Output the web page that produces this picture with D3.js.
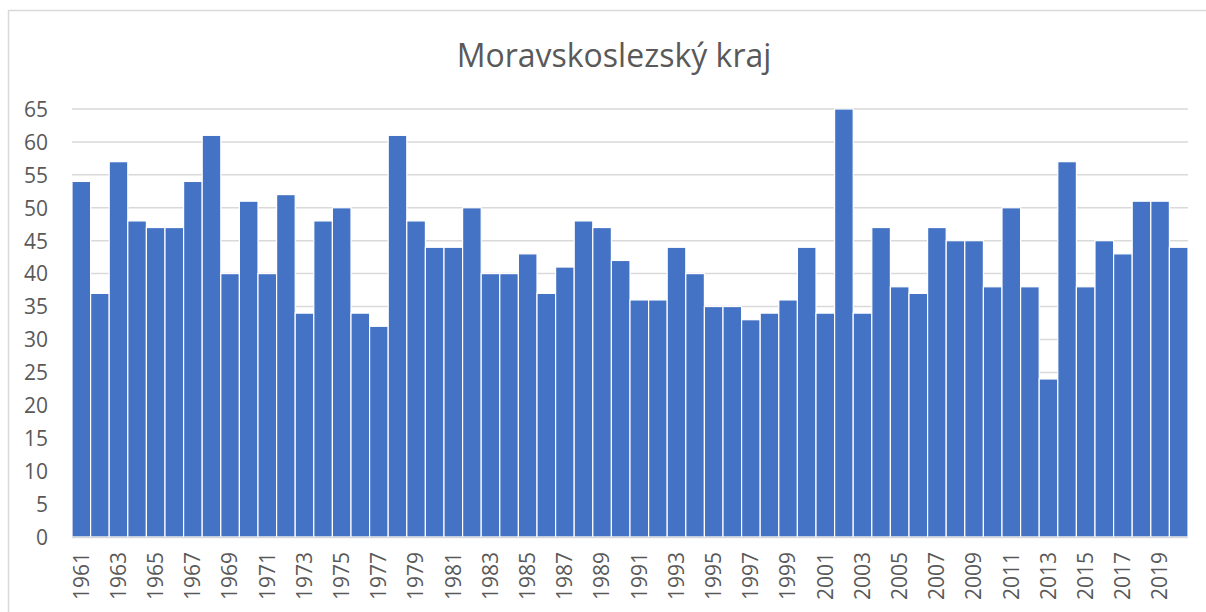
<!DOCTYPE html>
<html><head><meta charset="utf-8">
<script src="https://cdn.jsdelivr.net/npm/d3@7"></script>
<style>body{margin:0;background:#fff;} svg{display:block;}</style>
</head><body>
<svg id="chart" width="1206" height="612"></svg>
<script>
const title = "Moravskoslezský kraj";
const years = d3.range(1961, 2021).map(String);
const values = [54,37,57,48,47,47,54,61,40,51,40,52,34,48,50,34,32,61,48,44,
                44,50,40,40,43,37,41,48,47,42,36,36,44,40,35,35,33,34,36,44,
                34,65,34,47,38,37,47,45,45,38,50,38,24,57,38,45,43,51,51,44];
const yTicks = [0,5,10,15,20,25,30,35,40,45,50,55,60,65];
const xTickLabels = years.filter((d,i)=> i % 2 === 0);

(function(){
const svg = d3.select("#chart");
const font = "'Open Sans', 'Noto Sans', sans-serif";
const mL = 72, mR = 1188, mT = 109, mB = 537;

svg.append("rect").attr("x",8.5).attr("y",10.5).attr("width",1210).attr("height",620)
  .attr("fill","#fff").attr("stroke","#d9d9d9").attr("stroke-width",1.5);

const x = d3.scaleBand().domain(years).range([mL,mR]).padding(0);
const y = d3.scaleLinear().domain([0,65]).range([mB,mT]);

svg.append("g").selectAll("line").data(yTicks.filter(d=>d>0)).join("line")
  .attr("x1",mL).attr("x2",mR).attr("y1",d=>y(d)).attr("y2",d=>y(d))
  .attr("stroke","#d9d9d9").attr("stroke-width",1.5);

svg.append("g").selectAll("rect").data(values).join("rect")
  .attr("x",(d,i)=>x(years[i])).attr("width",x.bandwidth())
  .attr("y",d=>y(d)).attr("height",d=>y(0)-y(d))
  .attr("fill","#4472C4").attr("stroke","#ffffff").attr("stroke-width",1.2);

svg.append("line").attr("x1",mL).attr("x2",mR).attr("y1",y(0)+0.5).attr("y2",y(0)+0.5)
  .attr("stroke","#d9d9d9").attr("stroke-width",1.5);

const yAxis = d3.axisLeft(y).tickValues(yTicks).tickSize(0).tickPadding(0);
const gy = svg.append("g").attr("transform",`translate(48,0)`).call(yAxis);
gy.select(".domain").remove();
gy.selectAll("text").attr("font-family",font).attr("font-size",21).attr("fill","#595959").attr("dy","0.35em");

const xAxis = d3.axisBottom(x).tickValues(xTickLabels).tickSize(0).tickPadding(0);
const gx = svg.append("g").attr("transform",`translate(0,${mB})`).call(xAxis);
gx.select(".domain").remove();
gx.selectAll("text").attr("font-family",font).attr("font-size",21).attr("fill","#595959")
  .attr("transform","rotate(-90)").attr("text-anchor","end")
  .attr("x",-15).attr("y",0).attr("dy","0.35em");

svg.append("text").attr("x",614).attr("y",67).attr("text-anchor","middle")
  .attr("font-family",font).attr("font-size",32).attr("fill","#595959").text(title);
})();
</script>
</body></html>
